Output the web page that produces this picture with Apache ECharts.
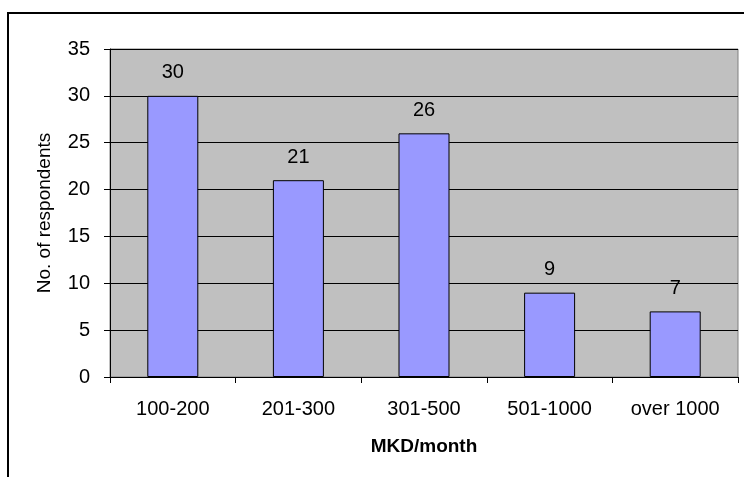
<!DOCTYPE html>
<html>
<head>
<meta charset="utf-8">
<script src="https://cdn.jsdelivr.net/npm/echarts@6/dist/echarts.min.js"></script>
<style>
  html, body { margin: 0; padding: 0; background: #fff; }
  #chart { width: 744px; height: 477px; }
</style>
</head>
<body>
<div id="chart"></div>
<script>
// income groups and how many respondents fall in each
const categories = ['100-200', '201-300', '301-500', '501-1000', 'over 1000'];
const respondents = [30, 21, 26, 9, 7];
const yTicks = { min: 0, max: 35, interval: 5 };

const font = 'Liberation Sans, Arial, sans-serif';
const chart = echarts.init(document.getElementById('chart'));

chart.setOption({
  backgroundColor: '#fff',
  animation: false,
  textStyle: { fontFamily: font },
  grid: {
    left: 110, right: 6, top: 49, bottom: 100,
    show: true,
    backgroundColor: '#c0c0c0',
    borderColor: '#808080',
    borderWidth: 1
  },
  // outer chart frame, runs off the right and bottom edges
  graphic: [{
    type: 'rect',
    shape: { x: 8, y: 13, width: 900, height: 600 },
    style: { fill: null, stroke: '#000', lineWidth: 2 },
    silent: true,
    z: -1
  }],
  xAxis: {
    type: 'category',
    data: categories,
    name: 'MKD/month',
    nameLocation: 'middle',
    nameGap: 60,
    nameTextStyle: { fontSize: 19, fontWeight: 'bold', color: '#000', fontFamily: font },
    axisLine: { lineStyle: { color: '#000', width: 1 } },
    axisTick: { show: true, length: 6, alignWithLabel: false, interval: 0, lineStyle: { color: '#000' } },
    axisLabel: { fontSize: 20, color: '#000', margin: 22, interval: 0, fontFamily: font },
    splitLine: { show: false }
  },
  yAxis: {
    type: 'value',
    min: yTicks.min,
    max: yTicks.max,
    interval: yTicks.interval,
    name: 'No. of respondents',
    nameLocation: 'middle',
    nameGap: 56,
    nameTextStyle: { fontSize: 19, color: '#000', fontFamily: font },
    axisLine: { show: true, lineStyle: { color: '#000', width: 1 } },
    axisTick: { show: true, length: 6, lineStyle: { color: '#000' } },
    axisLabel: { fontSize: 20, color: '#000', margin: 20, fontFamily: font },
    splitLine: { show: true, lineStyle: { color: '#000', width: 1 } }
  },
  series: [{
    type: 'bar',
    data: respondents,
    barWidth: 51,
    itemStyle: { color: '#9999ff', borderColor: '#000', borderWidth: 1 },
    label: {
      show: true,
      position: 'top',
      distance: 13,
      fontSize: 20,
      color: '#000',
      fontFamily: font
    }
  }]
});
</script>
</body>
</html>
